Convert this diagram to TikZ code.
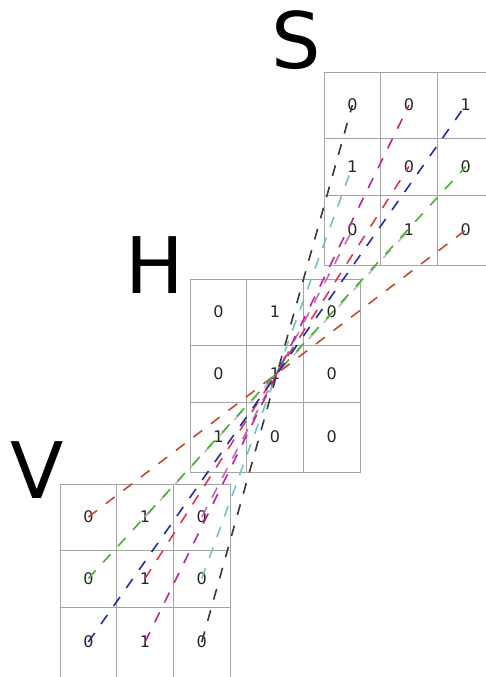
\documentclass[tikz,border=0pt]{standalone}
\usepackage{fontspec}
\setmainfont{DejaVu Sans}
\usetikzlibrary{positioning}
\definecolor{redl}{HTML}{C44A2E}
\definecolor{greenl}{HTML}{48B22E}
\definecolor{bluel}{HTML}{1E2EAE}
\definecolor{blackl}{HTML}{383838}
\definecolor{magl}{HTML}{BE2296}
\definecolor{orchl}{HTML}{C468B8}
\definecolor{cyanl}{HTML}{72C2C2}
\definecolor{grayl}{HTML}{BCBCBC}
\definecolor{criml}{HTML}{DE3452}
\definecolor{gridl}{HTML}{A4A4A4}

\begin{document}
\begin{tikzpicture}[
      x=1pt, y=-1pt,
      node distance=0pt,
      cell/.style={rectangle, draw=gridl, line width=0.8pt, outer sep=0pt,
                   inner sep=0pt, minimum width=56.7pt, minimum height=#1,
                   font=\fontsize{16}{16}\selectfont, text=black!85},
      big/.style={inner sep=0pt, font=\fontsize{78}{78}\selectfont},
      link/.style={dash pattern=on 11pt off 11pt, line width=1.6pt}
    ]
    \useasboundingbox (0,0) rectangle (486,677);
    \clip (0,0) rectangle (486,677);
    % letters
    \node[big] (slbl) at (296,40)  {S};
    \node[big] (hlbl) at (155,265) {H};
    \node[big] (vlbl) at (37,470)  {V};
    % S grid
    \node[cell=66pt, anchor=north west] (s00) at (324,72) {0};
    \node[cell=66pt, right=of s00] (s01) {0};
    \node[cell=66pt, right=of s01] (s02) {1};
    \node[cell=57pt, below=of s00] (s10) {1};
    \node[cell=57pt, right=of s10] (s11) {0};
    \node[cell=57pt, right=of s11] (s12) {0};
    \node[cell=70pt, below=of s10] (s20) {0};
    \node[cell=70pt, right=of s20] (s21) {1};
    \node[cell=70pt, right=of s21] (s22) {0};
    % H grid
    \node[cell=66pt, anchor=north west] (h00) at (190,279) {0};
    \node[cell=66pt, right=of h00] (h01) {1};
    \node[cell=66pt, right=of h01] (h02) {0};
    \node[cell=57pt, below=of h00] (h10) {0};
    \node[cell=57pt, right=of h10] (h11) {1};
    \node[cell=57pt, right=of h11] (h12) {0};
    \node[cell=70pt, below=of h10] (h20) {1};
    \node[cell=70pt, right=of h20] (h21) {0};
    \node[cell=70pt, right=of h21] (h22) {0};
    % V grid
    \node[cell=66pt, anchor=north west] (v00) at (60,484) {0};
    \node[cell=66pt, right=of v00] (v01) {1};
    \node[cell=66pt, right=of v01] (v02) {0};
    \node[cell=57pt, below=of v00] (v10) {0};
    \node[cell=57pt, right=of v10] (v11) {1};
    \node[cell=57pt, right=of v11] (v12) {0};
    \node[cell=70pt, below=of v10] (v20) {0};
    \node[cell=70pt, right=of v20] (v21) {1};
    \node[cell=70pt, right=of v21] (v22) {0};
    % rays through the centre of H
    \draw[link, grayl]  (v01.center) -- (s21.center);
    \draw[link, orchl]  (v02.center) -- (s20.center);
    \draw[link, cyanl]  (v12.center) -- (s10.center);
    \draw[link, redl]   (v00.center) -- (s22.center);
    \draw[link, greenl] (v10.center) -- (s12.center);
    \draw[link, criml]  (v11.center) -- (s11.center);
    \draw[link, magl]   (v21.center) -- (s01.center);
    \draw[link, bluel]  (v20.center) -- (s02.center);
    \draw[link, blackl] (v22.center) -- (s00.center);
  \end{tikzpicture}
\end{document}
